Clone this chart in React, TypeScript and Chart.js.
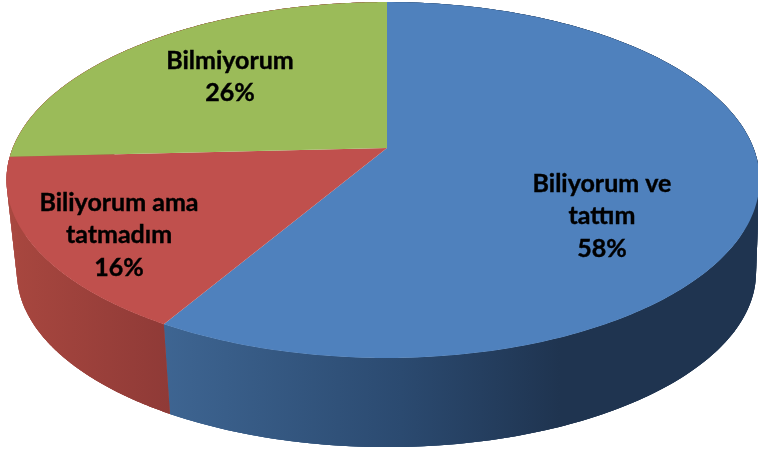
import React, { useEffect, useRef } from "react";
import { Chart, registerables } from "chart.js";

Chart.register(...registerables);

const categories = ["Biliyorum ve tattım", "Biliyorum ama tatmadım", "Bilmiyorum"];
const values = [58.4, 15.8, 25.8];
const labelLines = [["Biliyorum ve", "tattım"], ["Biliyorum ama", "tatmadım"], ["Bilmiyorum"]];
const topColors = ["#4F81BD", "#C0504D", "#9BBB59"];

const q = 0.18;
const topFace = { x: 387, y: 148, aL: 374.3, aR: 366.5, b: 172.2 };
const bottomFace = { x: 387, y: 241, aL: 364, aR: 363, b: 169 };
const labelAnchors = [
  { x: 602, y: 184 },
  { x: 119, y: 203 },
  { x: 230, y: 61 },
];
const lineGap = 32.3;

function project(face: typeof topFace, angle: number) {
  const u = Math.cos(angle);
  const v = Math.sin(angle);
  const w = 1 - q * v;
  const a = u < 0 ? face.aL : face.aR;
  return { x: face.x + (a * u) / w, y: face.y + (face.b * v) / w };
}

function sideFill(ctx: CanvasRenderingContext2D, index: number) {
  if (index === 0) {
    const g = ctx.createLinearGradient(163, 0, 560, 0);
    g.addColorStop(0, "#3E6592");
    g.addColorStop(0.6, "#2B4A70");
    g.addColorStop(1, "#1F3450");
    return g;
  }
  const g = ctx.createLinearGradient(10, 0, 170, 0);
  g.addColorStop(0, "#A8473F");
  g.addColorStop(1, "#8F3A37");
  return g;
}

const pie3d = {
  id: "pie3d",
  beforeDatasetsDraw(chart: Chart) {
    const ctx = chart.ctx;
    const arcs = chart.getDatasetMeta(0).data as any[];
    const steps = 240;
    ctx.save();
    [2, 0, 1].forEach((i) => {
      const arc = arcs[i];
      const s = arc.startAngle;
      const e = arc.endAngle;
      const at = (k: number) => s + ((e - s) * k) / steps;
      ctx.fillStyle = sideFill(ctx, i);
      ctx.beginPath();
      for (let k = 0; k <= steps; k++) {
        const p = project(topFace, at(k));
        if (k === 0) ctx.moveTo(p.x, p.y);
        else ctx.lineTo(p.x, p.y);
      }
      for (let k = steps; k >= 0; k--) {
        const p = project(bottomFace, at(k));
        ctx.lineTo(p.x, p.y);
      }
      ctx.closePath();
      ctx.fill();
      // overlapping strips cover the fold at the silhouette of the wall
      for (let k = 0; k < steps; k++) {
        const k2 = Math.min(steps, k + 2);
        const a = project(topFace, at(k));
        const b = project(topFace, at(k2));
        const c = project(bottomFace, at(k2));
        const d = project(bottomFace, at(k));
        ctx.beginPath();
        ctx.moveTo(a.x, a.y);
        ctx.lineTo(b.x, b.y);
        ctx.lineTo(c.x, c.y);
        ctx.lineTo(d.x, d.y);
        ctx.closePath();
        ctx.fill();
      }
    });
    arcs.forEach((arc, i) => {
      const s = arc.startAngle;
      const e = arc.endAngle;
      ctx.beginPath();
      ctx.moveTo(topFace.x, topFace.y);
      for (let k = 0; k <= steps; k++) {
        const p = project(topFace, s + ((e - s) * k) / steps);
        ctx.lineTo(p.x, p.y);
      }
      ctx.closePath();
      ctx.fillStyle = topColors[i];
      ctx.fill();
    });
    ctx.font = 'bold 25px Lato, "Open Sans", sans-serif';
    ctx.fillStyle = "#000";
    ctx.strokeStyle = "#000";
    ctx.lineWidth = 0.4;
    ctx.textAlign = "center";
    ctx.textBaseline = "middle";
    values.forEach((v, i) => {
      const lines = [...labelLines[i], `${Math.round(v)}%`];
      lines.forEach((line, n) => {
        ctx.fillText(line, labelAnchors[i].x, labelAnchors[i].y + n * lineGap);
        ctx.strokeText(line, labelAnchors[i].x, labelAnchors[i].y + n * lineGap);
      });
    });
    ctx.restore();
    return false;
  },
};

export default function App() {
  const ref = useRef<HTMLCanvasElement>(null);
  useEffect(() => {
    document.body.style.margin = "0";
    const chart = new Chart(ref.current!, {
      type: "pie",
      data: {
        labels: categories,
        datasets: [{ data: values, backgroundColor: topColors, borderWidth: 0 }],
      },
      options: {
        animation: false,
        responsive: false,
        plugins: { legend: { display: false }, tooltip: { enabled: false } },
      },
      plugins: [pie3d],
    } as any);
    return () => chart.destroy();
  }, []);
  return <canvas ref={ref} width={758} height={453} style={{ display: "block" }} />;
}
